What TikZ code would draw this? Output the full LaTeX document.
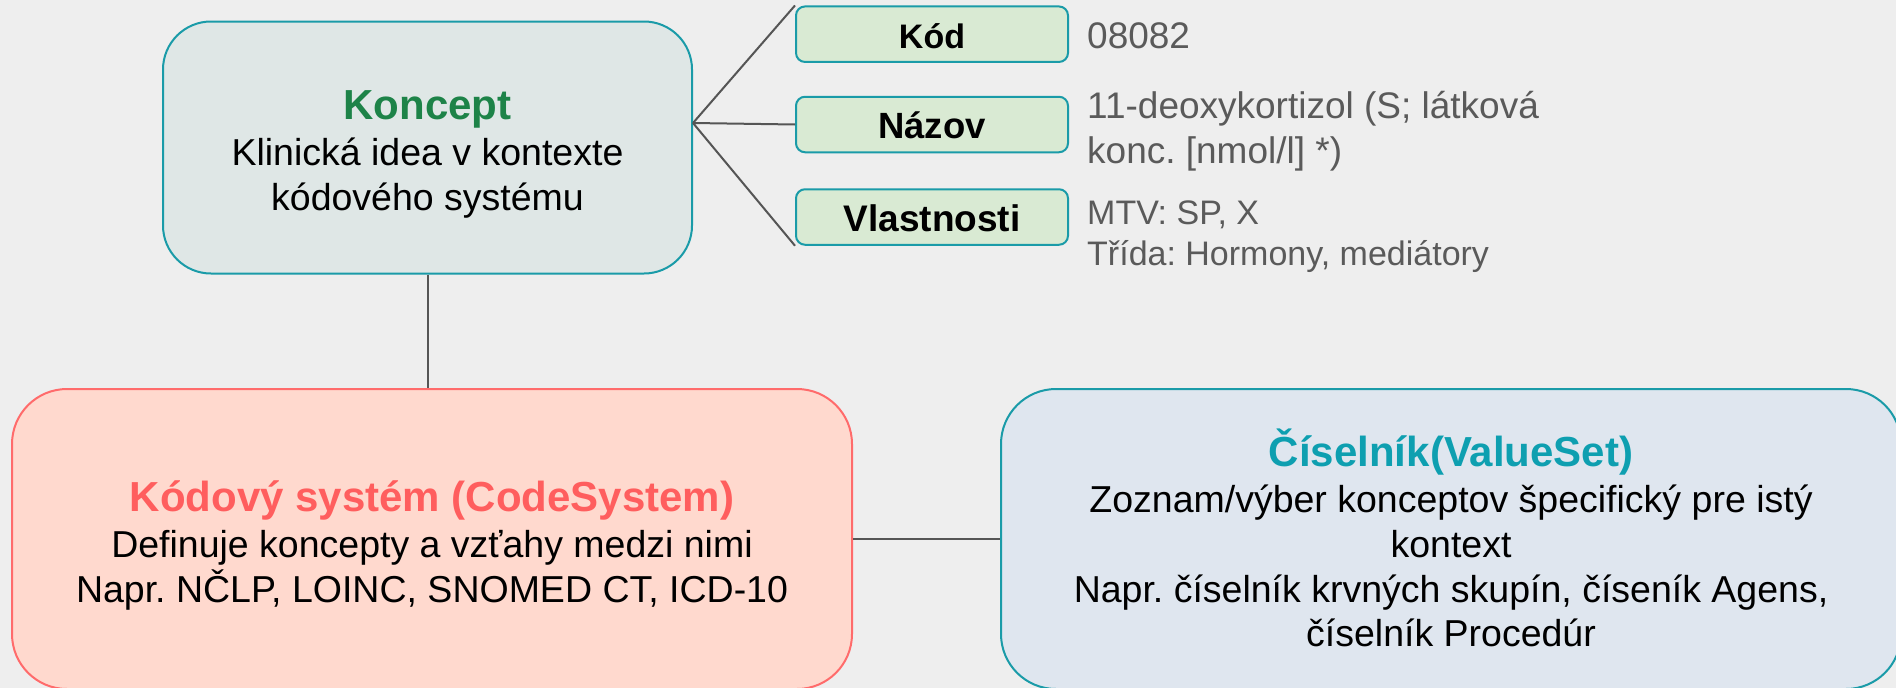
\documentclass[tikz,border=0pt]{standalone}
\usepackage{fontspec}
\setmainfont{Liberation Sans}
\frenchspacing
\definecolor{bgc}{HTML}{EEEEEE}
\definecolor{kfill}{HTML}{DFE7E6}
\definecolor{tealb}{HTML}{1A9BA8}
\definecolor{kgreen}{HTML}{1D8348}
\definecolor{sfill}{HTML}{D9EAD3}
\definecolor{csfill}{HTML}{FFD9CE}
\definecolor{csborder}{HTML}{FF6B6B}
\definecolor{cstitle}{HTML}{FF5E5E}
\definecolor{vsfill}{HTML}{DFE6EF}
\definecolor{vstitle}{HTML}{0E9FB0}
\definecolor{valgray}{HTML}{5A5A5A}
\definecolor{connc}{HTML}{555555}
\tikzset{
  bigbox/.style={draw, line width=2pt, rectangle, inner sep=0pt},
  smallbox/.style={draw=tealb, fill=sfill, line width=2pt, rectangle, rounded corners=9pt,
    minimum width=272pt, minimum height=55.5pt, text height=28pt, text depth=0pt,
    inner sep=0pt, font=\bfseries},
  titletext/.style={anchor=base, inner sep=0pt, font=\fontsize{42}{50}\selectfont\bfseries},
  bodytext/.style={anchor=base, inner sep=0pt, font=\fontsize{37.5}{45}\selectfont},
  valtext/.style={anchor=base west, inner sep=0pt, text=valgray, font=\fontsize{37}{44}\selectfont},
  valsmall/.style={anchor=base west, inner sep=0pt, text=valgray, font=\fontsize{34}{41}\selectfont},
  conn/.style={draw=connc, line width=2pt}
}
\begin{document}
\begin{tikzpicture}[x=1pt,y=-1pt]
\useasboundingbox (0,0) rectangle (1896,688);
\fill[bgc] (0,0) rectangle (1896,688);
\clip (0,0) rectangle (1896,688);

% main boxes
\node[bigbox, draw=tealb, fill=kfill, rounded corners=48pt, minimum width=529pt, minimum height=252pt] (koncept) at (427.5,147.5) {};
\node[bigbox, draw=csborder, fill=csfill, rounded corners=55pt, minimum width=840pt, minimum height=300pt] (cs) at (432,539) {};
\node[bigbox, draw=tealb, fill=vsfill, rounded corners=55pt, minimum width=900pt, minimum height=300pt] (vs) at (1451,539) {};

% small boxes
\node[smallbox] (kod) at (932,34.2) {\fontsize{34}{40}\selectfont Kód};
\node[smallbox] (nazov) at (932,124.5) {\fontsize{36.5}{44}\selectfont Názov};
\node[smallbox] (vl) at (932,217) {\fontsize{37}{44}\selectfont Vlastnosti};

% connectors
\coordinate (hub) at ([yshift=24.5pt]koncept.east);
\draw[conn] (hub) -- (kod.north west);
\draw[conn] (hub) -- (nazov.west);
\draw[conn] (hub) -- (vl.south west);
\draw[conn] (koncept.south) -- (koncept.south |- cs.north);
\draw[conn] (cs.east) -- (vs.west);

% Koncept texts
\node[titletext, text=kgreen] (kt) at (427.5,119) {Koncept};
\node[bodytext] (kb1) at (427.5,165.7) {Klinická idea v kontexte};
\node[bodytext] (kb2) at (427.5,210.7) {kódového systému};

% CodeSystem texts
\node[titletext, text=cstitle] (cst) at (432,511.7) {Kódový systém (CodeSystem)};
\node[bodytext] (csb1) at (432,557.7) {Definuje koncepty a vzťahy medzi nimi};
\node[bodytext] (csb2) at (432,602) {Napr. NČLP, LOINC, SNOMED CT, ICD-10};

% ValueSet texts
\node[titletext, text=vstitle] (vst) at (1451,466.7) {Číselník(ValueSet)};
\node[bodytext] (vsb1) at (1451,512.7) {Zoznam/výber konceptov špecifický pre istý};
\node[bodytext] (vsb2) at (1451,557.3) {kontext};
\node[bodytext] (vsb3) at (1451,602.3) {Napr. číselník krvných skupín, číseník Agens,};
\node[bodytext] (vsb4) at (1451,646.7) {číselník Procedúr};

% values
\node[valtext] (v1) at (1087,48.3) {08082};
\node[valtext] (v2a) at (1087,118.3) {11-deoxykortizol (S; látková};
\node[valtext] (v2b) at (1087,163.3) {konc. [nmol/l] *)};
\node[valsmall] (v3a) at (1087,224) {MTV: SP, X};
\node[valsmall] (v3b) at (1087,265) {Třída: Hormony, mediátory};
\end{tikzpicture}
\end{document}
